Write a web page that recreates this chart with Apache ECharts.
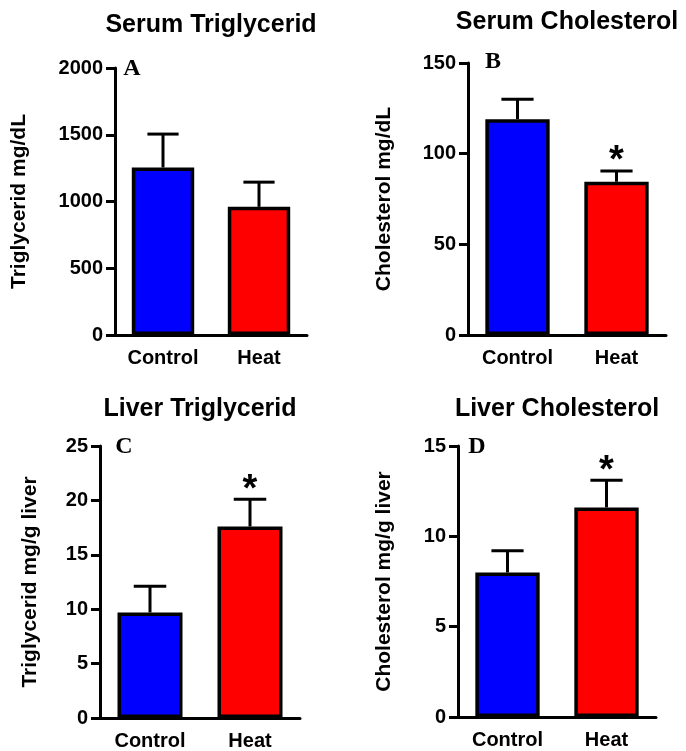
<!DOCTYPE html>
<html>
<head>
<meta charset="utf-8">
<script src="https://cdn.jsdelivr.net/npm/echarts@6/dist/echarts.min.js"></script>
<style>
html,body{margin:0;padding:0;background:#fff;}
#chart{width:686px;height:751px;}
</style>
</head>
<body>
<div id="chart"></div>
<script>
// ---- data ----
const categories = ['Control', 'Heat'];

const serumTGMean = [1255, 960];
const serumTGErr  = [250, 185];
const serumTGSig  = [0, 0];

const serumCholMean = [119, 84.5];
const serumCholErr  = [11, 6];
const serumCholSig  = [0, 1];

const liverTGMean = [9.7, 17.6];
const liverTGErr  = [2.4, 2.5];
const liverTGSig  = [0, 1];

const liverCholMean = [8.0, 11.6];
const liverCholErr  = [1.2, 1.5];
const liverCholSig  = [0, 1];

const titles = ['Serum Triglycerid', 'Serum Cholesterol', 'Liver Triglycerid', 'Liver Cholesterol'];
const letters = ['A', 'B', 'C', 'D'];
const yNames = ['Triglycerid mg/dL', 'Cholesterol mg/dL', 'Triglycerid mg/g liver', 'Cholesterol mg/g liver'];
const yMax = [2000, 150, 25, 15];
const yInterval = [500, 50, 5, 5];

const barColors = ['#0000FF', '#FF0000'];

// ---- layout ----
const grids = [
  {left: 115, top: 68, width: 192, height: 267},
  {left: 468, top: 63, width: 198, height: 272},
  {left: 100, top: 446, width: 200, height: 272},
  {left: 458, top: 446, width: 198, height: 271}
];
const nameGaps = [85, 73, 59, 63];
const titleTops = [13, 10, 397, 397];
const letterPos = [[132, 57], [493, 50], [124, 435], [477, 435]];

const panels = [
  [serumTGMean, serumTGErr, serumTGSig],
  [serumCholMean, serumCholErr, serumCholSig],
  [liverTGMean, liverTGErr, liverTGSig],
  [liverCholMean, liverCholErr, liverCholSig]
];

const FONT = 'Liberation Sans, Arial, sans-serif';

function errRender(params, api) {
  const x = api.value(0), y = api.value(1), e = api.value(2), sig = api.value(3);
  const p0 = api.coord([x, y]);
  const p1 = api.coord([x, y + e]);
  const band = api.size([1, 0])[0];
  const half = band * 0.65 * 0.25;
  const children = [
    {type: 'line', shape: {x1: p0[0], y1: p0[1], x2: p1[0], y2: p1[1]}, style: {stroke: '#000', lineWidth: 3}},
    {type: 'line', shape: {x1: p1[0] - half, y1: p1[1], x2: p1[0] + half, y2: p1[1]}, style: {stroke: '#000', lineWidth: 3}}
  ];
  if (sig) {
    children.push({type: 'text', style: {text: '*', x: p1[0], y: p1[1] - 9, align: 'center', verticalAlign: 'middle',
      fontSize: 38, fontWeight: 'bold', fontFamily: FONT, fill: '#000'}});
  }
  return {type: 'group', children: children};
}

const option = {
  animation: false,
  backgroundColor: '#fff',
  title: [],
  grid: [],
  xAxis: [],
  yAxis: [],
  series: []
};

grids.forEach((g, i) => {
  option.grid.push(g);
  option.title.push({
    text: titles[i], left: g.left + g.width / 2, top: titleTops[i], textAlign: 'center', padding: 0,
    textStyle: {fontSize: 25, fontWeight: 'bold', fontFamily: FONT, color: '#000'}
  });
  option.title.push({
    text: letters[i], left: letterPos[i][0], top: letterPos[i][1], textAlign: 'center', padding: 0,
    textStyle: {fontSize: 24, fontWeight: 'bold', fontFamily: 'Liberation Serif, Times New Roman, serif', color: '#000'}
  });
  option.xAxis.push({
    type: 'category', gridIndex: i, data: categories,
    axisLine: {lineStyle: {color: '#000', width: 3}},
    axisTick: {alignWithLabel: true, length: 9, lineStyle: {color: '#000', width: 3}},
    axisLabel: {color: '#000', fontSize: 20, fontWeight: 'bold', fontFamily: FONT, margin: 13},
    splitLine: {show: false}
  });
  option.yAxis.push({
    type: 'value', gridIndex: i, min: 0, max: yMax[i], interval: yInterval[i],
    name: yNames[i], nameLocation: 'middle', nameGap: nameGaps[i], nameRotate: 90,
    nameTextStyle: {color: '#000', fontSize: 21, fontWeight: 'bold', fontFamily: FONT},
    axisLine: {show: true, lineStyle: {color: '#000', width: 3}},
    axisTick: {show: true, length: 9, lineStyle: {color: '#000', width: 3}},
    axisLabel: {color: '#000', fontSize: 20, fontWeight: 'bold', fontFamily: FONT, margin: 12,
      formatter: v => String(v)},
    splitLine: {show: false}
  });
  const [mean, err, sig] = panels[i];
  option.series.push({
    type: 'bar', xAxisIndex: i, yAxisIndex: i, barWidth: '65%',
    data: mean.map((v, k) => ({value: v, itemStyle: {color: barColors[k], borderColor: '#000', borderWidth: 3.5}})),
    z: 2
  });
  option.series.push({
    type: 'custom', xAxisIndex: i, yAxisIndex: i, renderItem: errRender, z: 3,
    encode: {x: 0, y: 1},
    data: mean.map((v, k) => [k, v, err[k], sig[k]])
  });
});

const chart = echarts.init(document.getElementById('chart'), null, {renderer: 'canvas'});
chart.setOption(option);
</script>
</body>
</html>
